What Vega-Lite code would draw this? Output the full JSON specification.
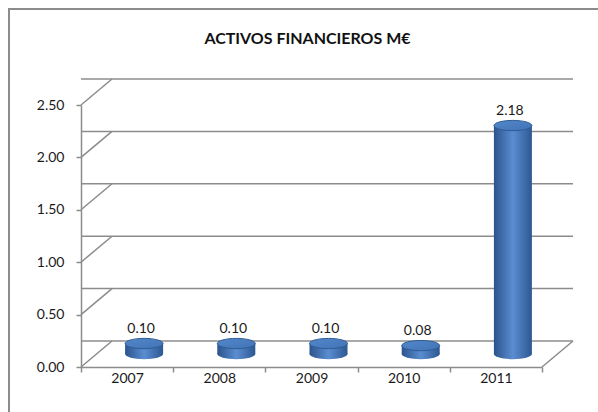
{
  "$schema": "https://vega.github.io/schema/vega-lite/v6.json",
  "autosize": "none",
  "width": 461,
  "height": 262,
  "padding": {"left": 81, "top": 105, "right": 56, "bottom": 45},
  "background": "white",
  "config": {"view": {"stroke": null}, "font": "Lato"},
  "datasets": {
    "assets": [
      {"year": "2007", "value": 0.10},
      {"year": "2008", "value": 0.10},
      {"year": "2009", "value": 0.10},
      {"year": "2010", "value": 0.08},
      {"year": "2011", "value": 2.18}
    ],
    "grid": [{"v": 0}, {"v": 0.5}, {"v": 1}, {"v": 1.5}, {"v": 2}, {"v": 2.5}],
    "one": [{"title": "ACTIVOS FINANCIEROS M€"}]
  },
  "layer": [
    {
      "data": {"name": "one"},
      "mark": {"type": "rule", "color": "#8c8c8c", "strokeWidth": 2, "xOffset": -72, "x2Offset": -72, "yOffset": -96, "y2Offset": 60},
      "encoding": {
        "x": {"datum": "2007", "type": "nominal", "bandPosition": 0},
        "x2": {"datum": "2007", "bandPosition": 0},
        "y": {"datum": 2.5, "type": "quantitative"},
        "y2": {"datum": 0}
      }
    },
    {
      "data": {"name": "one"},
      "mark": {"type": "rule", "color": "#8c8c8c", "strokeWidth": 2, "xOffset": -73, "x2Offset": 56, "yOffset": -96, "y2Offset": -96},
      "encoding": {
        "x": {"datum": "2007", "type": "nominal", "bandPosition": 0},
        "x2": {"datum": "2011", "bandPosition": 1},
        "y": {"datum": 2.5, "type": "quantitative"},
        "y2": {"datum": 2.5}
      }
    },
    {
      "data": {"name": "one"},
      "mark": {"type": "text", "font": "Lato", "fontSize": 16, "fontWeight": "bold", "color": "#111", "align": "center", "baseline": "alphabetic", "xOffset": -4, "yOffset": -61},
      "encoding": {
        "x": {"datum": "2009", "type": "nominal"},
        "y": {"datum": 2.5, "type": "quantitative"},
        "text": {"field": "title"}
      }
    },
    {
      "data": {"name": "grid"},
      "mark": {"type": "rule", "color": "#8c8c8c", "strokeWidth": 1.5, "xOffset": 31, "x2Offset": 31, "yOffset": -26},
      "encoding": {
        "y": {"field": "v", "type": "quantitative", "scale": {"domain": [0, 2.5], "nice": false},
          "axis": {"values": [0, 0.5, 1, 1.5, 2, 2.5], "format": ".2f", "title": null, "grid": false, "domainColor": "#8c8c8c", "domainWidth": 1.5, "tickColor": "#8c8c8c", "tickWidth": 1.5, "tickSize": 5, "labelFontSize": 14, "labelColor": "#1a1a1a", "labelPadding": 12, "labelFont": "Lato"}}
      }
    },
    {
      "data": {"name": "grid"},
      "mark": {"type": "rule", "color": "#8c8c8c", "strokeWidth": 1.5, "x2Offset": 31, "y2Offset": -26},
      "encoding": {
        "x": {"datum": "2007", "type": "nominal", "bandPosition": 0},
        "x2": {"datum": "2007", "bandPosition": 0},
        "y": {"field": "v", "type": "quantitative"},
        "y2": {"field": "v"}
      }
    },
    {
      "data": {"name": "one"},
      "mark": {"type": "rule", "color": "#8c8c8c", "strokeWidth": 1.5, "x2Offset": 31, "y2Offset": -26},
      "encoding": {
        "x": {"datum": "2011", "type": "nominal", "bandPosition": 1},
        "x2": {"datum": "2011", "bandPosition": 1},
        "y": {"datum": 0, "type": "quantitative"},
        "y2": {"datum": 0}
      }
    },
    {
      "data": {"name": "assets"},
      "mark": {"type": "point", "shape": "M-1,0A1,0.27 0 1,0 1,0A1,0.27 0 1,0 -1,0Z", "size": 1444, "filled": true, "opacity": 1, "xOffset": 17, "yOffset": -13,
        "fill": {"gradient": "linear", "x1": 0, "x2": 1, "y1": 0, "y2": 0, "stops": [{"offset": 0, "color": "#2b548c"}, {"offset": 0.5, "color": "#5a8dd1"}, {"offset": 1, "color": "#2d5891"}]}},
      "encoding": {
        "x": {"field": "year", "type": "nominal", "scale": {"domain": ["2007", "2008", "2009", "2010", "2011"], "paddingInner": 0, "paddingOuter": 0},
          "axis": {"title": null, "tickBand": "extent", "domainColor": "#8c8c8c", "domainWidth": 1.5, "tickColor": "#8c8c8c", "tickWidth": 1.5, "tickSize": 5, "labelFontSize": 14, "labelColor": "#1a1a1a", "labelPadding": 6, "labelAngle": 0, "labelAlign": "center", "labelFont": "Lato"}},
        "y": {"datum": 0, "type": "quantitative"}
      }
    },
    {
      "data": {"name": "assets"},
      "mark": {"type": "bar", "size": 38, "xOffset": 17, "yOffset": -13, "y2Offset": -13,
        "fill": {"gradient": "linear", "x1": 0, "x2": 1, "y1": 0, "y2": 0, "stops": [{"offset": 0, "color": "#2b548c"}, {"offset": 0.5, "color": "#5a8dd1"}, {"offset": 1, "color": "#2d5891"}]}},
      "encoding": {
        "x": {"field": "year", "type": "nominal"},
        "y": {"field": "value", "type": "quantitative"},
        "y2": {"datum": 0}
      }
    },
    {
      "data": {"name": "assets"},
      "mark": {"type": "point", "shape": "M-1,0A1,0.27 0 1,0 1,0A1,0.27 0 1,0 -1,0Z", "size": 1444, "filled": true, "opacity": 1, "xOffset": 17, "yOffset": -13,
        "fill": {"gradient": "linear", "x1": 0, "x2": 1, "y1": 0, "y2": 1, "stops": [{"offset": 0, "color": "#5287c9"}, {"offset": 1, "color": "#4174b6"}]},
        "stroke": "#2f5b94", "strokeWidth": 1},
      "encoding": {
        "x": {"field": "year", "type": "nominal"},
        "y": {"field": "value", "type": "quantitative"}
      }
    },
    {
      "data": {"name": "assets"},
      "mark": {"type": "text", "fontSize": 14, "font": "Lato", "color": "#1a1a1a", "xOffset": 14, "yOffset": -28, "baseline": "middle"},
      "encoding": {
        "x": {"field": "year", "type": "nominal"},
        "y": {"field": "value", "type": "quantitative"},
        "text": {"field": "value", "type": "quantitative", "format": ".2f"}
      }
    }
  ]
}
